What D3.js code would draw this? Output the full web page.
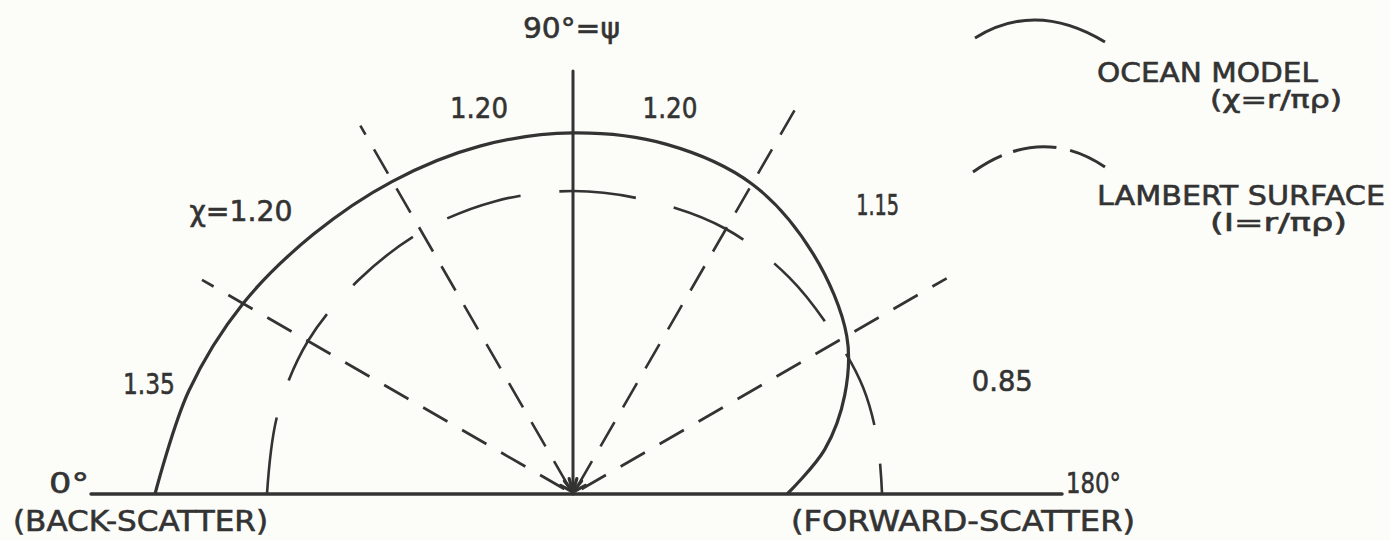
<!DOCTYPE html>
<html>
<head>
<meta charset="utf-8">
<script src="https://cdn.jsdelivr.net/npm/d3@7"></script>
<style>
  body { margin: 0; background: #fcfcf8; }
  svg { display: block; }
  text { font-family: "DejaVu Sans", sans-serif; fill: #333; stroke: #333; stroke-width: 0.6px; }
</style>
</head>
<body>
<div id="chart"></div>
<script>
// scattering angle psi in degrees (0 = back-scatter, 180 = forward-scatter)
var angles = [0, 15, 30, 45, 60, 75, 90, 105, 120, 135, 150, 160, 170, 180];
// ocean model, chi = r / (pi rho)
var oceanValues = [1.366, 1.30, 1.245, 1.20, 1.18, 1.177, 1.18, 1.183, 1.17, 1.11, 1.033, 0.945, 0.835, 0.70];
// lambert surface, I = r / (pi rho)
var lambertValues = [1.00, 1.00, 1.00, 0.99, 0.99, 0.99, 0.99, 0.99, 1.00, 1.00, 1.00, 1.01, 1.01, 1.01];

// dashed guide spokes
var spokeAngles = [30, 60, 120, 150];
var spokeLengths = [1.40, 1.39, 1.47, 1.41];

// chi values written in each sector
var sectorLabels = ["1.35", "\u03c7=1.20", "1.20", "1.20", "1.15", "0.85"];
var sectorAngles = [14.5, 40.4, 76.3, 104.1, 136.5, 165.2];

var legendLabels = ["OCEAN MODEL", "LAMBERT SURFACE"];
var legendFormulas = ["(\u03c7=r/\u03c0\u03c1)", "(I=r/\u03c0\u03c1)"];

var width = 1390, height = 540;
var cx = 573, cy = 494;
var ink = "#333";

var svg = d3.select("#chart").append("svg")
    .attr("width", width)
    .attr("height", height);

svg.append("rect")
    .attr("width", width)
    .attr("height", height)
    .attr("fill", "#fcfcf8");

var r = d3.scaleLinear().domain([0, 1]).range([0, 306]);
var rad = function(psi) { return (psi - 90) * Math.PI / 180; };

var g = svg.append("g")
    .attr("transform", "translate(" + cx + "," + cy + ")");

var ocean = angles.map(function(a, i) { return {psi: a, v: oceanValues[i]}; });
var lambert = angles.map(function(a, i) { return {psi: a, v: lambertValues[i]}; });

var line = d3.lineRadial()
    .angle(function(d) { return rad(d.psi); })
    .radius(function(d) { return r(d.v); })
    .curve(d3.curveCatmullRom.alpha(0.5));

// base line 0..180
g.append("line")
    .attr("x1", -r(1.575))
    .attr("x2", r(1.598))
    .attr("y1", 0).attr("y2", 0)
    .attr("stroke", ink)
    .attr("stroke-width", 3.5)
    .attr("stroke-linecap", "round");

// dashed spokes
g.selectAll(".spoke")
    .data(spokeAngles)
  .enter().append("line")
    .attr("class", "spoke")
    .attr("x1", function(d) { return d3.pointRadial(rad(d), 10)[0]; })
    .attr("y1", function(d) { return d3.pointRadial(rad(d), 10)[1]; })
    .attr("x2", function(d, i) { return d3.pointRadial(rad(d), r(spokeLengths[i]))[0]; })
    .attr("y2", function(d, i) { return d3.pointRadial(rad(d), r(spokeLengths[i]))[1]; })
    .attr("stroke", ink)
    .attr("stroke-width", 2.6)
    .attr("stroke-dasharray", "28,17");

// 90 deg axis with arrow at the origin
g.append("line")
    .attr("x1", 0).attr("x2", 0)
    .attr("y1", -r(1.382)).attr("y2", 0)
    .attr("stroke", ink)
    .attr("stroke-width", 3)
    .attr("stroke-linecap", "round");

g.selectAll(".barb")
    .data([-62, -38, -16, 16, 38, 62])
  .enter().append("line")
    .attr("class", "barb")
    .attr("x1", 0).attr("y1", -2)
    .attr("x2", function(d) { return 14 * Math.sin(d * Math.PI / 180); })
    .attr("y2", function(d) { return -2 - 14 * Math.cos(d * Math.PI / 180); })
    .attr("stroke", ink)
    .attr("stroke-width", 3.2)
    .attr("stroke-linecap", "round");

// lambert surface
g.append("path")
    .datum(lambert)
    .attr("d", line)
    .attr("fill", "none")
    .attr("stroke", ink)
    .attr("stroke-width", 2.6)
    .attr("stroke-dasharray", "77,39");

// ocean model
g.append("path")
    .datum(ocean)
    .attr("d", line)
    .attr("fill", "none")
    .attr("stroke", ink)
    .attr("stroke-width", 3.2);

// sector values
var sectorRadius = [438, 436, 397, 398, 420, 444];
var sectorWidth = [52, 103, 58, 55, 43, 61];
g.selectAll(".sector")
    .data(sectorLabels)
  .enter().append("text")
    .attr("class", "sector")
    .attr("x", function(d, i) { return d3.pointRadial(rad(sectorAngles[i]), sectorRadius[i])[0]; })
    .attr("y", function(d, i) { return d3.pointRadial(rad(sectorAngles[i]), sectorRadius[i])[1] + 10; })
    .attr("text-anchor", "middle")
    .attr("textLength", function(d, i) { return sectorWidth[i]; })
    .attr("lengthAdjust", "spacingAndGlyphs")
    .style("font-size", "29px")
    .text(function(d) { return d; });

// axis end labels
function label(txt, x, y, size, w) {
  svg.append("text")
      .attr("x", x)
      .attr("y", y)
      .attr("textLength", w)
      .attr("lengthAdjust", "spacingAndGlyphs")
      .style("font-size", size + "px")
      .text(txt);
}
label("0\u00b0", 49, 493, 29, 40);
label("180\u00b0", 1066, 493, 29, 55);
label("(BACK-SCATTER)", 13, 531, 28, 255);
label("(FORWARD-SCATTER)", 791, 531, 28, 344);
label("90\u00b0=\u03c8", 523, 38, 29, 97);

// legend
var legend = svg.append("g");
var p1 = d3.path();
p1.moveTo(975, 38);
p1.quadraticCurveTo(1036, 0, 1105, 42);
legend.append("path")
    .attr("d", p1.toString())
    .attr("fill", "none")
    .attr("stroke", ink)
    .attr("stroke-width", 3);

var p2 = d3.path();
p2.moveTo(973, 172);
p2.quadraticCurveTo(1041, 124, 1105, 167);
legend.append("path")
    .attr("d", p2.toString())
    .attr("fill", "none")
    .attr("stroke", ink)
    .attr("stroke-width", 3)
    .attr("stroke-dasharray", "33,12,44,14,40");

label(legendLabels[0], 1097, 82, 27, 221);
label(legendFormulas[0], 1210, 108, 24, 132);
label(legendLabels[1], 1097, 205, 27, 288);
label(legendFormulas[1], 1210, 231, 24, 137);
</script>
</body>
</html>
